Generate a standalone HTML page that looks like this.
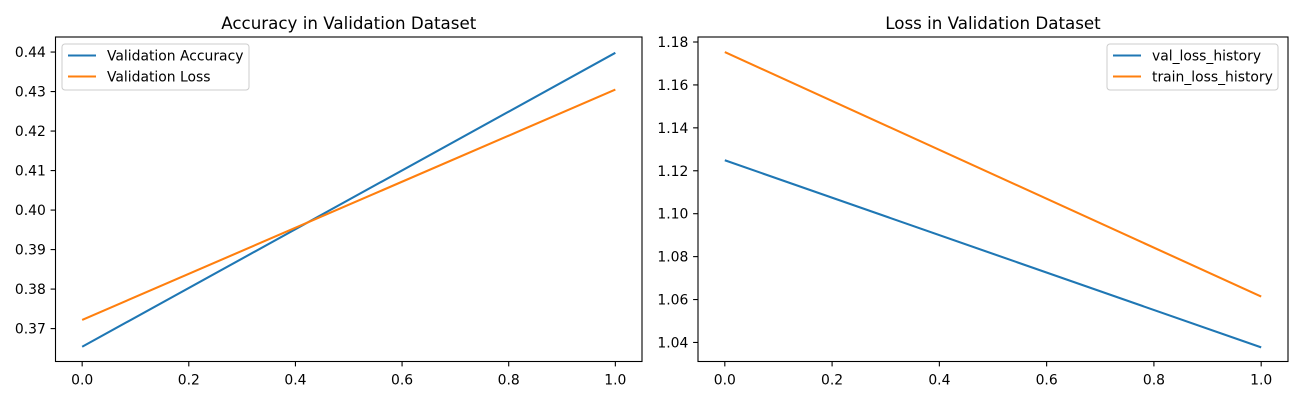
<!DOCTYPE html>
<html><head><meta charset="utf-8"><style>
body{margin:0;background:#fff;}
svg text{font-family:"DejaVu Sans","Liberation Sans",sans-serif;fill:#000;}
</style></head><body>
<svg id="c" width="1300" height="400" xmlns="http://www.w3.org/2000/svg"></svg>
<script>
const xValues=[0,1];
const xTicks=[0,0.2,0.4,0.6,0.8,1.0];
const xTickLabels=["0.0","0.2","0.4","0.6","0.8","1.0"];
const accSeries=[0.3654,0.4398];
const accLossSeries=[0.3722,0.4305];
const accYTicks=[0.37,0.38,0.39,0.40,0.41,0.42,0.43,0.44];
const accYLabels=["0.37","0.38","0.39","0.40","0.41","0.42","0.43","0.44"];
const valLossSeries=[1.1249,1.0377];
const trainLossSeries=[1.1753,1.0614];
const lossYTicks=[1.04,1.06,1.08,1.10,1.12,1.14,1.16,1.18];
const lossYLabels=["1.04","1.06","1.08","1.10","1.12","1.14","1.16","1.18"];

const NS="http://www.w3.org/2000/svg";
const svg=document.getElementById('c');
function mk(tag,attrs,parent){const e=document.createElementNS(NS,tag);for(const k in attrs)e.setAttribute(k,attrs[k]);(parent||svg).appendChild(e);return e;}

function panel(p){
  const g=mk('g',{});
  
  
  const xs=v=>p.px0+(v-p.xmin)/(p.xmax-p.xmin)*(p.px1-p.px0);
  const ys=v=>p.py0+(p.ymax-v)/(p.ymax-p.ymin)*(p.py1-p.py0);
  xTicks.forEach((t,i)=>{
    const x=xs(t);
    const l=mk('line',{x1:x,x2:x,y1:p.py1,y2:p.py1+4.9,stroke:'#000','stroke-width':1.1},g);
    
    
    const tx=mk('text',{x:x,y:p.py1+23,'font-size':13.9,'text-anchor':'middle'},g);
    tx.textContent=xTickLabels[i];
    
    
  });
  p.yTicks.forEach((t,i)=>{
    const y=ys(t);
    const l=mk('line',{x1:p.px0-4.9,x2:p.px0,y1:y,y2:y,stroke:'#000','stroke-width':1.1},g);
    
    
    const tx=mk('text',{x:p.px0-9.7,y:y+5,'font-size':13.9,'text-anchor':'end'},g);
    tx.textContent=p.yLabels[i];
    
    
  });
  p.series.forEach(s=>{
    const pts=xValues.map((xv,i)=>xs(xv)+','+ys(s.data[i])).join(' ');
    const pl=mk('polyline',{points:pts,fill:'none',stroke:s.color,'stroke-width':2.08},g);
    
    
  });
  const fr=mk('rect',{x:p.px0,y:p.py0,width:p.px1-p.px0,height:p.py1-p.py0,fill:'none',stroke:'#000','stroke-width':1.1},g);
  
  
  const ti=mk('text',{x:(p.px0+p.px1)/2,y:p.py0-8,'font-size':16.7,'text-anchor':'middle'},g);
  ti.textContent=p.title;
  
  
  const lg=mk('g',{},g);
  
  
  mk('rect',{x:p.lx,y:p.ly,width:p.lw,height:46,rx:3,fill:'#fff','fill-opacity':0.8,stroke:'#ccc','stroke-width':1},lg);
  p.series.forEach((s,i)=>{
    const y=p.ly+11.5+i*21;
    const e=mk('g',{},lg);
    
    
    mk('line',{x1:p.lx+6,x2:p.lx+34,y1:y,y2:y,stroke:s.color,'stroke-width':2.08},e);
    const t=mk('text',{x:p.lx+45,y:y+5,'font-size':13.9},e);
    t.textContent=s.label;
  });
}
panel({name:'accuracy-panel',title:'Accuracy in Validation Dataset',px0:55.5,px1:642,py0:37,py1:361.5,
  xmin:-0.05,xmax:1.05,ymin:0.36167,ymax:0.44381,yTicks:accYTicks,yLabels:accYLabels,lx:62,ly:44,lw:187,
  series:[{id:'validation-accuracy-line',label:'Validation Accuracy',color:'#1f77b4',data:accSeries},
          {id:'validation-loss-line',label:'Validation Loss',color:'#ff7f0e',data:accLossSeries}]});
panel({name:'loss-panel',title:'Loss in Validation Dataset',px0:698,px1:1288,py0:37,py1:361.5,
  xmin:-0.05,xmax:1.05,ymin:1.03113,ymax:1.18233,yTicks:lossYTicks,yLabels:lossYLabels,lx:1107,ly:44,lw:171,
  series:[{id:'val-loss-history-line',label:'val_loss_history',color:'#1f77b4',data:valLossSeries},
          {id:'train-loss-history-line',label:'train_loss_history',color:'#ff7f0e',data:trainLossSeries}]});
</script>
</body></html>
